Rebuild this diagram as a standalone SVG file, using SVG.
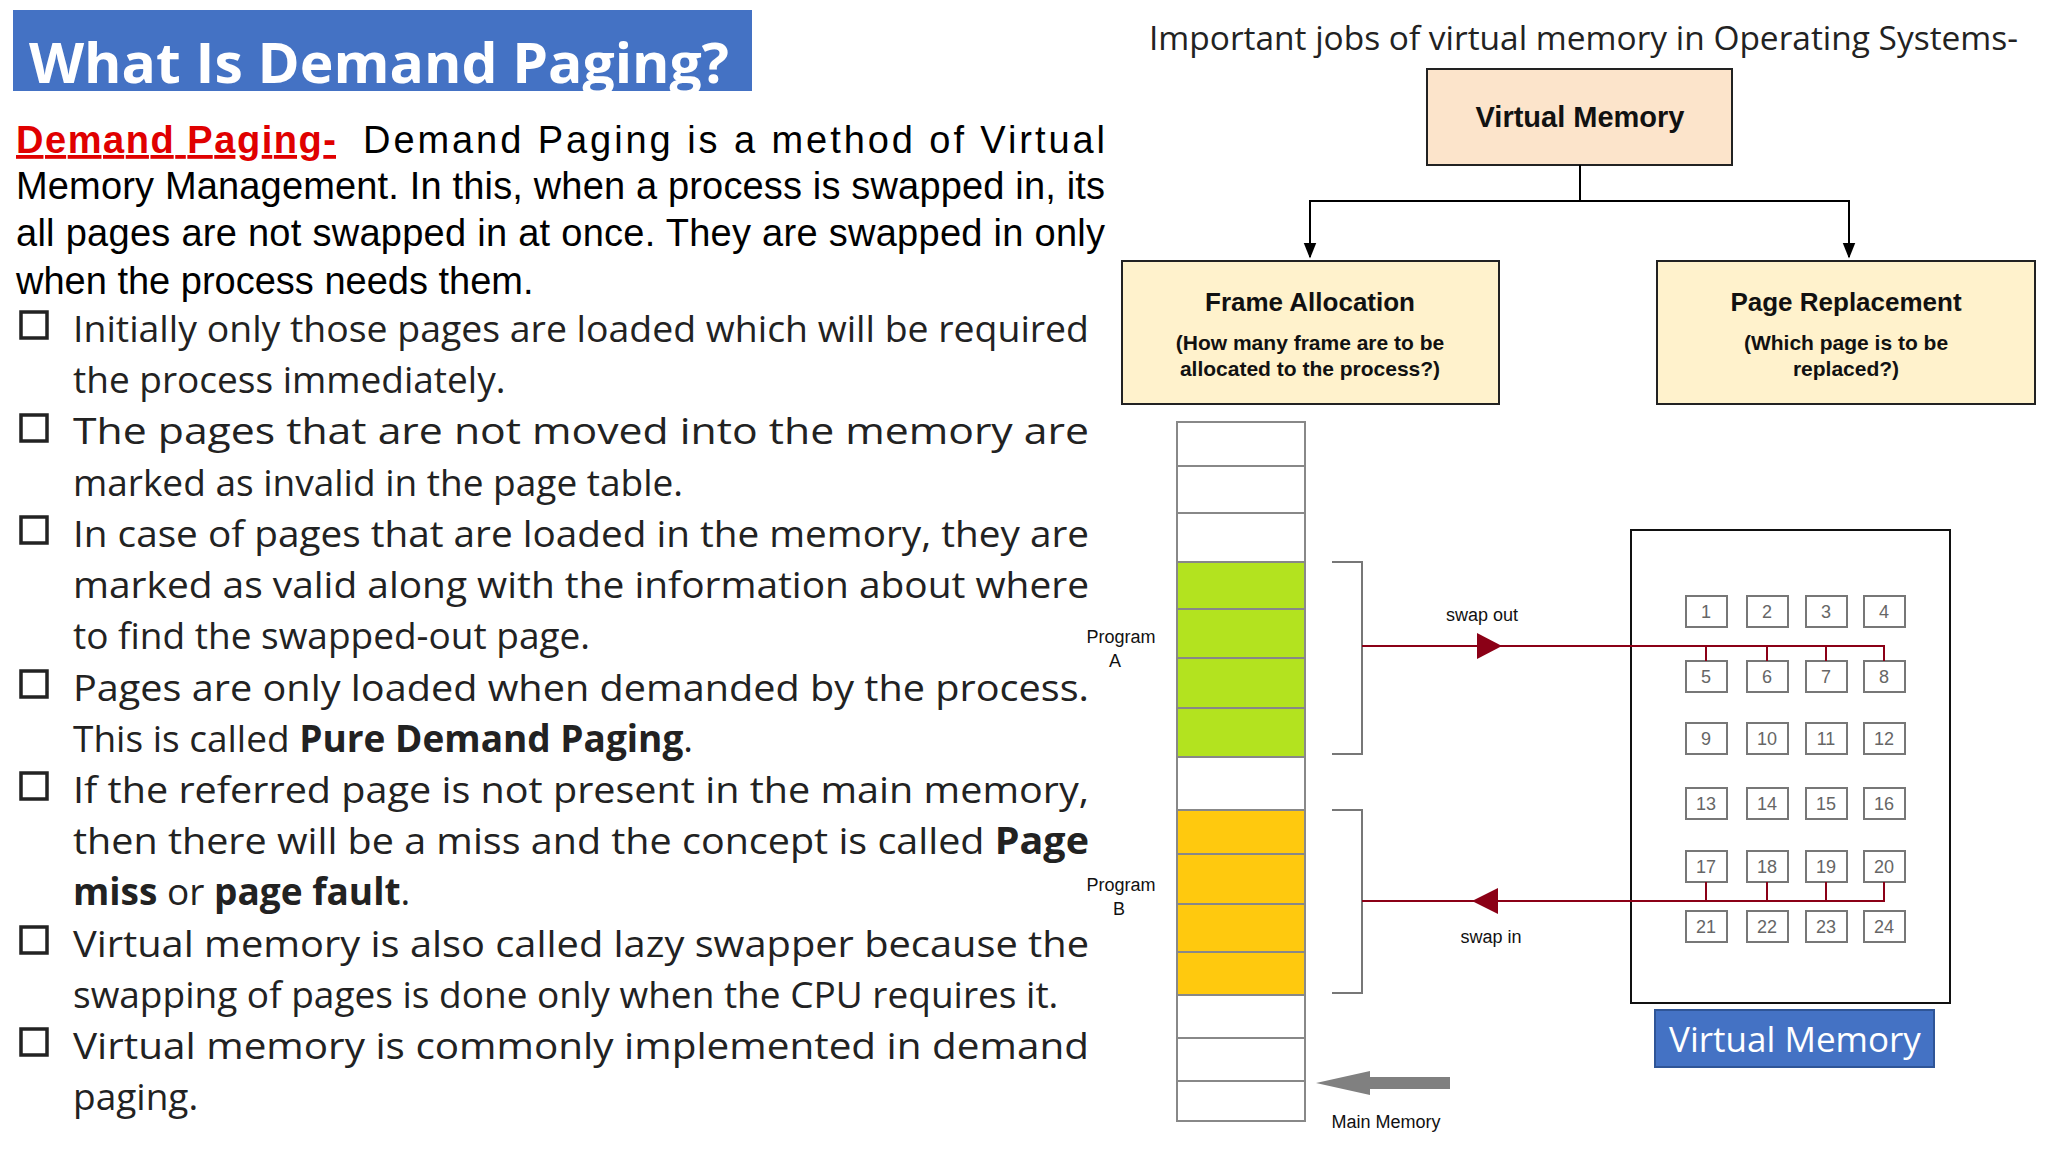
<svg xmlns="http://www.w3.org/2000/svg" width="2048" height="1152" viewBox="0 0 2048 1152">
<style>
.body{font-family:"Liberation Sans",Arial,sans-serif;font-size:38px;fill:#000}
.bul{font-family:"Open Sans","Liberation Sans",sans-serif;font-size:37px;fill:#222}
.sm{font-family:"Liberation Sans",Arial,sans-serif;font-size:18px;fill:#111}
.pg{fill:#fff;stroke:#777;stroke-width:2}
.pn{font-family:"Liberation Sans",Arial,sans-serif;font-size:18px;fill:#666;text-anchor:middle}
.mem{stroke:#888;stroke-width:2}
.red{stroke:#8b0016;stroke-width:2;fill:none}
.nt{font-family:"Liberation Sans",Arial,sans-serif;font-weight:bold;text-anchor:middle;fill:#111}
</style>
<defs>
<marker id="ah" viewBox="0 0 10 10" refX="9" refY="5" markerWidth="8" markerHeight="8" orient="auto"><path d="M0,1 L10,5 L0,9 Z" fill="#000"/></marker>
</defs>
<rect width="2048" height="1152" fill="#fff"/>
<g id="title">
<rect x="13" y="10" width="739" height="81" fill="#4472c4"/>
<text x="29" y="83" font-family="'Open Sans',sans-serif" font-weight="bold" font-size="56" fill="#fff" textLength="700" lengthAdjust="spacingAndGlyphs">What Is Demand Paging?</text>
</g>
<g id="text">
<text class="body" x="16" y="153" font-weight="bold" text-decoration="underline" style="fill:#e00000" textLength="320" lengthAdjust="spacing">Demand  Paging-</text>
<text class="body" x="363" y="153" textLength="742" lengthAdjust="spacing">Demand Paging is a method of Virtual</text>
<text class="body" x="16" y="199" textLength="1089" lengthAdjust="spacing">Memory Management. In this, when a process is swapped in, its</text>
<text class="body" x="16" y="246" textLength="1089" lengthAdjust="spacing">all pages are not swapped in at once. They are swapped in only</text>
<text class="body" x="16" y="294">when the process needs them.</text>
<g fill="none" stroke="#222" stroke-width="3.5">
<rect x="21" y="312" width="26" height="26"/><rect x="21" y="415" width="26" height="26"/><rect x="21" y="517" width="26" height="26"/><rect x="21" y="671" width="26" height="26"/><rect x="21" y="773" width="26" height="26"/><rect x="21" y="927" width="26" height="26"/><rect x="21" y="1029" width="26" height="26"/>
</g>
<text class="bul" x="73" y="342" textLength="1016" lengthAdjust="spacingAndGlyphs">Initially only those pages are loaded which will be required</text>
<text class="bul" x="73" y="393">the process immediately.</text>
<text class="bul" x="73" y="444" textLength="1016" lengthAdjust="spacingAndGlyphs">The  pages  that  are  not  moved  into  the  memory  are</text>
<text class="bul" x="73" y="496">marked as invalid in the page table.</text>
<text class="bul" x="73" y="547" textLength="1016" lengthAdjust="spacingAndGlyphs">In case of pages that are loaded in the memory, they are</text>
<text class="bul" x="73" y="598" textLength="1016" lengthAdjust="spacingAndGlyphs">marked as valid along with the information about where</text>
<text class="bul" x="73" y="649">to find the swapped-out page.</text>
<text class="bul" x="73" y="701" textLength="1016" lengthAdjust="spacingAndGlyphs">Pages are only loaded when demanded by the process.</text>
<text class="bul" x="73" y="752">This is called <tspan font-weight="bold">Pure Demand Paging</tspan>.</text>
<text class="bul" x="73" y="803" textLength="1016" lengthAdjust="spacingAndGlyphs">If the referred page is not present in the main memory,</text>
<text class="bul" x="73" y="854" textLength="1016" lengthAdjust="spacingAndGlyphs">then there will be a miss and the concept is called <tspan font-weight="bold">Page</tspan></text>
<text class="bul" x="73" y="905"><tspan font-weight="bold">miss</tspan> or <tspan font-weight="bold">page fault</tspan>.</text>
<text class="bul" x="73" y="957" textLength="1016" lengthAdjust="spacingAndGlyphs">Virtual memory is also called lazy swapper because the</text>
<text class="bul" x="73" y="1008">swapping of pages is done only when the CPU requires it.</text>
<text class="bul" x="73" y="1059" textLength="1016" lengthAdjust="spacingAndGlyphs">Virtual  memory  is  commonly  implemented  in  demand</text>
<text class="bul" x="73" y="1110">paging.</text>
</g>
<text x="1149" y="50" font-family="'Open Sans',sans-serif" font-size="33" fill="#222" textLength="869" lengthAdjust="spacingAndGlyphs">Important jobs of virtual memory in Operating Systems-</text>
<g id="vm">
<rect x="1427" y="69" width="305" height="96" fill="#fce4cb" stroke="#222" stroke-width="2"/>
<text class="nt" x="1580" y="127" font-size="29">Virtual Memory</text>
</g>
<g id="fa">
<rect x="1122" y="261" width="377" height="143" fill="#fff2cc" stroke="#222" stroke-width="2"/>
<text class="nt" x="1310" y="311" font-size="26">Frame Allocation</text>
<text class="nt" x="1310" y="350" font-size="21">(How many frame are to be</text>
<text class="nt" x="1310" y="376" font-size="21">allocated to the process?)</text>
</g>
<g id="pr">
<rect x="1657" y="261" width="378" height="143" fill="#fff2cc" stroke="#222" stroke-width="2"/>
<text class="nt" x="1846" y="311" font-size="26">Page Replacement</text>
<text class="nt" x="1846" y="350" font-size="21">(Which page is to be</text>
<text class="nt" x="1846" y="376" font-size="21">replaced?)</text>
</g>
<g id="mainmem">
<rect x="1177" y="562" width="128" height="195" fill="#b3e31f"/>
<rect x="1177" y="810" width="128" height="185" fill="#ffc90e"/>
<rect x="1177" y="422" width="128" height="699" fill="none" stroke="#888" stroke-width="2"/>
<path class="mem" d="M1177,466H1305M1177,513H1305M1177,562H1305M1177,609H1305M1177,658H1305M1177,708H1305M1177,757H1305M1177,810H1305M1177,854H1305M1177,904H1305M1177,952H1305M1177,995H1305M1177,1038H1305M1177,1081H1305"/>
<path d="M1332,562 H1362 V754 H1332 M1332,810 H1362 V993 H1332" fill="none" stroke="#777" stroke-width="2"/>
<text class="sm" x="1121" y="643" text-anchor="middle">Program</text>
<text class="sm" x="1115" y="667" text-anchor="middle">A</text>
<text class="sm" x="1121" y="891" text-anchor="middle">Program</text>
<text class="sm" x="1119" y="915" text-anchor="middle">B</text>
<text class="sm" x="1482" y="621" text-anchor="middle">swap out</text>
<text class="sm" x="1491" y="943" text-anchor="middle">swap in</text>
<text class="sm" x="1386" y="1128" text-anchor="middle" fill="#888">Main Memory</text>
</g>
<g id="virtual">
<rect x="1631" y="530" width="319" height="473" fill="#fff" stroke="#111" stroke-width="2"/>
<g>
<rect class="pg" x="1686" y="596" width="41" height="31"/><rect class="pg" x="1747" y="596" width="41" height="31"/><rect class="pg" x="1806" y="596" width="41" height="31"/><rect class="pg" x="1864" y="596" width="41" height="31"/>
<rect class="pg" x="1686" y="661" width="41" height="31"/><rect class="pg" x="1747" y="661" width="41" height="31"/><rect class="pg" x="1806" y="661" width="41" height="31"/><rect class="pg" x="1864" y="661" width="41" height="31"/>
<rect class="pg" x="1686" y="723" width="41" height="31"/><rect class="pg" x="1747" y="723" width="41" height="31"/><rect class="pg" x="1806" y="723" width="41" height="31"/><rect class="pg" x="1864" y="723" width="41" height="31"/>
<rect class="pg" x="1686" y="788" width="41" height="31"/><rect class="pg" x="1747" y="788" width="41" height="31"/><rect class="pg" x="1806" y="788" width="41" height="31"/><rect class="pg" x="1864" y="788" width="41" height="31"/>
<rect class="pg" x="1686" y="851" width="41" height="31"/><rect class="pg" x="1747" y="851" width="41" height="31"/><rect class="pg" x="1806" y="851" width="41" height="31"/><rect class="pg" x="1864" y="851" width="41" height="31"/>
<rect class="pg" x="1686" y="911" width="41" height="31"/><rect class="pg" x="1747" y="911" width="41" height="31"/><rect class="pg" x="1806" y="911" width="41" height="31"/><rect class="pg" x="1864" y="911" width="41" height="31"/>
</g>
<g>
<text class="pn" x="1706" y="618">1</text><text class="pn" x="1767" y="618">2</text><text class="pn" x="1826" y="618">3</text><text class="pn" x="1884" y="618">4</text>
<text class="pn" x="1706" y="683">5</text><text class="pn" x="1767" y="683">6</text><text class="pn" x="1826" y="683">7</text><text class="pn" x="1884" y="683">8</text>
<text class="pn" x="1706" y="745">9</text><text class="pn" x="1767" y="745">10</text><text class="pn" x="1826" y="745">11</text><text class="pn" x="1884" y="745">12</text>
<text class="pn" x="1706" y="810">13</text><text class="pn" x="1767" y="810">14</text><text class="pn" x="1826" y="810">15</text><text class="pn" x="1884" y="810">16</text>
<text class="pn" x="1706" y="873">17</text><text class="pn" x="1767" y="873">18</text><text class="pn" x="1826" y="873">19</text><text class="pn" x="1884" y="873">20</text>
<text class="pn" x="1706" y="933">21</text><text class="pn" x="1767" y="933">22</text><text class="pn" x="1826" y="933">23</text><text class="pn" x="1884" y="933">24</text>
</g>
<rect x="1655" y="1010" width="279" height="57" fill="#4472c4" stroke="#2f5597" stroke-width="2"/>
<text x="1795" y="1052" text-anchor="middle" font-family="'Open Sans',sans-serif" font-size="35" fill="#fff">Virtual Memory</text>
</g>
<g id="connectors">
<path d="M1580,165 V201 H1310 V257" fill="none" stroke="#000" stroke-width="2" marker-end="url(#ah)"/>
<path d="M1580,201 H1849 V257" fill="none" stroke="#000" stroke-width="2" marker-end="url(#ah)"/>
<path class="red" d="M1362,646 H1884 V661 M1706,646 V661 M1767,646 V661 M1826,646 V661"/>
<path d="M1477,633 L1502,646 L1477,659 Z" fill="#8b0016"/>
<path class="red" d="M1362,901 H1884 V882 M1706,901 V882 M1767,901 V882 M1826,901 V882"/>
<path d="M1498,888 L1472,901 L1498,914 Z" fill="#8b0016"/>
<path d="M1450,1077 H1370 V1071 L1316,1083 L1370,1095 V1089 H1450 Z" fill="#808080"/>
</g>
</svg>
